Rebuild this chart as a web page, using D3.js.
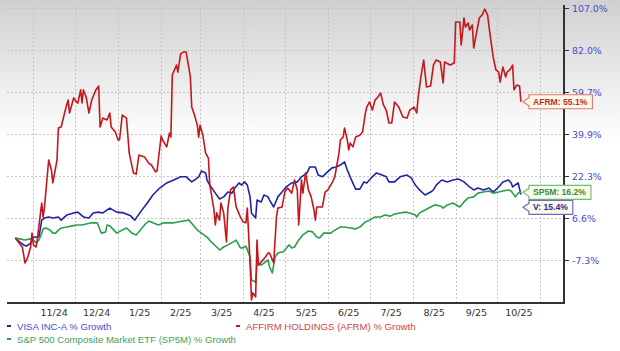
<!DOCTYPE html>
<html>
<head>
<meta charset="utf-8">
<script src="https://cdn.jsdelivr.net/npm/d3@7"></script>
<style>
  body { margin: 0; background: #fff; }
  svg { display: block; }
</style>
</head>
<body>
<script>
  // y ticks are evenly spaced on the chart (log-like growth scale)
  const yTicks = [-7.3, 6.6, 22.3, 39.9, 59.7, 82.0, 107.0]
  const monthStarts = ["2024-11-01", "2024-12-01", "2025-01-01", "2025-02-01", "2025-03-01", "2025-04-01",
    "2025-05-01", "2025-06-01", "2025-07-01", "2025-08-01", "2025-09-01", "2025-10-01", "2025-11-01"]
  const monthLabels = ["11/24", "12/24", "1/25", "2/25", "3/25", "4/25", "5/25", "6/25", "7/25", "8/25", "9/25", "10/25"]

  const afrm = [
    ["2024-10-19", 0.0], ["2024-10-24", -3.0], ["2024-10-25", -5.6], ["2024-10-26", -8.3], ["2024-10-28", -6.3],
    ["2024-10-30", -3.0], ["2024-10-31", 1.6], ["2024-11-01", -2.3], ["2024-11-03", -3.0], ["2024-11-04", 0.3],
    ["2024-11-07", 12.2], ["2024-11-08", 7.0], ["2024-11-09", 10.7], ["2024-11-12", 29.0], ["2024-11-14", 24.8],
    ["2024-11-15", 19.7], ["2024-11-18", 29.0], ["2024-11-19", 42.7], ["2024-11-21", 43.2], ["2024-11-24", 51.2],
    ["2024-11-26", 55.9], ["2024-11-27", 49.8], ["2024-11-30", 56.9], ["2024-12-02", 55.0], ["2024-12-03", 54.5],
    ["2024-12-05", 60.8], ["2024-12-06", 54.5], ["2024-12-07", 60.8], ["2024-12-09", 57.3], ["2024-12-11", 49.8],
    ["2024-12-13", 55.9], ["2024-12-16", 60.8], ["2024-12-18", 62.9], ["2024-12-19", 43.2], ["2024-12-21", 47.4],
    ["2024-12-24", 46.5], ["2024-12-26", 49.8], ["2024-12-27", 43.2], ["2024-12-30", 40.8], ["2025-01-01", 37.4],
    ["2025-01-02", 37.4], ["2025-01-04", 48.8], ["2025-01-07", 47.4], ["2025-01-09", 31.9], ["2025-01-12", 23.6],
    ["2025-01-14", 23.1], ["2025-01-16", 31.1], ["2025-01-20", 30.3], ["2025-01-23", 27.7], ["2025-01-25", 26.9],
    ["2025-01-28", 24.0], ["2025-01-29", 24.4], ["2025-02-01", 39.1], ["2025-02-02", 37.4], ["2025-02-05", 34.5],
    ["2025-02-07", 40.4], ["2025-02-08", 38.6], ["2025-02-09", 68.7], ["2025-02-12", 74.0], ["2025-02-13", 70.3],
    ["2025-02-15", 79.9], ["2025-02-17", 80.9], ["2025-02-19", 80.9], ["2025-02-22", 67.7], ["2025-02-23", 52.6],
    ["2025-02-25", 48.8], ["2025-02-27", 44.1], ["2025-02-28", 38.6], ["2025-03-01", 44.1], ["2025-03-03", 39.4],
    ["2025-03-05", 31.9], ["2025-03-07", 29.8], ["2025-03-08", 18.9], ["2025-03-09", 15.9], ["2025-03-11", 9.6],
    ["2025-03-12", 4.3], ["2025-03-13", 8.5], ["2025-03-15", 5.9], ["2025-03-16", 12.2], ["2025-03-18", 8.5],
    ["2025-03-20", -1.3], ["2025-03-21", 10.3], ["2025-03-23", 17.1], ["2025-03-25", 18.2], ["2025-03-27", 10.7],
    ["2025-03-30", 7.0], ["2025-04-01", 5.3], ["2025-04-03", 5.0], ["2025-04-04", 10.3], ["2025-04-06", -8.3],
    ["2025-04-07", -20.5], ["2025-04-08", -18.2], ["2025-04-10", -19.5], ["2025-04-11", -0.7], ["2025-04-12", -9.0],
    ["2025-04-14", -8.0], ["2025-04-17", -6.3], ["2025-04-19", -5.0], ["2025-04-20", -5.0], ["2025-04-23", -8.3],
    ["2025-04-25", 7.0], ["2025-04-26", 10.3], ["2025-04-29", 10.7], ["2025-05-01", 16.3], ["2025-05-03", 17.8],
    ["2025-05-06", 15.9], ["2025-05-08", 20.8], ["2025-05-10", 17.1], ["2025-05-11", 4.3], ["2025-05-13", 20.8],
    ["2025-05-14", 15.9], ["2025-05-16", 23.6], ["2025-05-18", 17.1], ["2025-05-20", 14.5], ["2025-05-22", 9.6],
    ["2025-05-23", 5.9], ["2025-05-24", 10.7], ["2025-05-28", 10.7], ["2025-05-30", 16.3], ["2025-06-01", 17.1],
    ["2025-06-04", 19.7], ["2025-06-06", 22.0], ["2025-06-09", 31.9], ["2025-06-10", 37.4], ["2025-06-12", 38.6],
    ["2025-06-13", 42.7], ["2025-06-15", 37.4], ["2025-06-16", 33.2], ["2025-06-17", 36.1], ["2025-06-19", 34.5],
    ["2025-06-21", 38.6], ["2025-06-24", 39.4], ["2025-06-26", 40.8], ["2025-06-28", 49.8], ["2025-06-29", 52.6],
    ["2025-07-01", 55.0], ["2025-07-03", 51.2], ["2025-07-05", 55.9], ["2025-07-07", 57.3], ["2025-07-09", 59.2],
    ["2025-07-11", 53.6], ["2025-07-13", 51.2], ["2025-07-15", 45.1], ["2025-07-17", 45.1], ["2025-07-19", 55.0],
    ["2025-07-22", 52.6], ["2025-07-25", 47.9], ["2025-07-28", 47.4], ["2025-07-30", 51.2], ["2025-08-02", 52.6],
    ["2025-08-04", 49.8], ["2025-08-05", 57.3], ["2025-08-07", 67.7], ["2025-08-09", 76.7], ["2025-08-11", 62.4],
    ["2025-08-14", 62.9], ["2025-08-16", 74.0], ["2025-08-18", 76.7], ["2025-08-21", 75.6], ["2025-08-23", 64.5],
    ["2025-08-24", 75.6], ["2025-08-28", 74.0], ["2025-08-31", 75.1], ["2025-09-01", 98.7], ["2025-09-04", 98.7],
    ["2025-09-05", 85.0], ["2025-09-07", 101.0], ["2025-09-08", 95.7], ["2025-09-10", 98.1], ["2025-09-11", 93.9],
    ["2025-09-13", 96.9], ["2025-09-14", 83.2], ["2025-09-16", 92.1], ["2025-09-18", 101.0], ["2025-09-20", 102.8],
    ["2025-09-22", 106.4], ["2025-09-24", 102.8], ["2025-09-26", 89.7], ["2025-09-28", 78.3], ["2025-09-30", 71.4],
    ["2025-10-02", 70.3], ["2025-10-03", 65.0], ["2025-10-05", 73.0], ["2025-10-07", 67.7], ["2025-10-08", 70.3],
    ["2025-10-10", 71.4], ["2025-10-12", 74.0], ["2025-10-13", 60.8], ["2025-10-15", 63.4], ["2025-10-17", 62.9],
    ["2025-10-18", 55.1]
  ]

  const visa = [
    ["2024-10-19", 0.0], ["2024-10-22", -1.3], ["2024-10-25", -2.3], ["2024-10-27", -2.7], ["2024-10-30", -1.7],
    ["2024-11-01", 0.3], ["2024-11-05", 0.3], ["2024-11-07", 5.9], ["2024-11-09", 6.6], ["2024-11-12", 7.0],
    ["2024-11-15", 6.6], ["2024-11-19", 7.0], ["2024-11-21", 5.9], ["2024-11-25", 7.7], ["2024-11-30", 8.5],
    ["2024-12-03", 8.8], ["2024-12-07", 7.0], ["2024-12-11", 6.6], ["2024-12-14", 8.5], ["2024-12-18", 8.8],
    ["2024-12-21", 8.5], ["2024-12-26", 10.3], ["2024-12-31", 8.8], ["2025-01-05", 8.5], ["2025-01-10", 7.4],
    ["2025-01-13", 5.9], ["2025-01-17", 8.8], ["2025-01-22", 12.2], ["2025-01-26", 15.2], ["2025-01-31", 17.8],
    ["2025-02-05", 19.7], ["2025-02-10", 20.8], ["2025-02-15", 22.0], ["2025-02-19", 22.0], ["2025-02-23", 20.1],
    ["2025-02-25", 20.8], ["2025-02-28", 22.0], ["2025-03-02", 24.4], ["2025-03-05", 23.6], ["2025-03-06", 20.8],
    ["2025-03-08", 18.9], ["2025-03-12", 15.9], ["2025-03-15", 13.7], ["2025-03-18", 14.5], ["2025-03-21", 16.3],
    ["2025-03-24", 15.9], ["2025-03-26", 17.8], ["2025-03-29", 19.7], ["2025-03-31", 18.9], ["2025-04-02", 20.1],
    ["2025-04-04", 18.9], ["2025-04-06", 14.5], ["2025-04-07", 8.5], ["2025-04-10", 6.6], ["2025-04-11", 13.3],
    ["2025-04-14", 12.6], ["2025-04-16", 15.2], ["2025-04-19", 14.5], ["2025-04-20", 13.3], ["2025-04-23", 10.7],
    ["2025-04-26", 14.5], ["2025-04-29", 16.3], ["2025-05-02", 18.2], ["2025-05-06", 19.7], ["2025-05-10", 20.1],
    ["2025-05-13", 22.0], ["2025-05-17", 23.6], ["2025-05-19", 26.1], ["2025-05-23", 26.1], ["2025-05-25", 22.7],
    ["2025-05-28", 22.0], ["2025-05-31", 23.6], ["2025-06-04", 25.7], ["2025-06-07", 26.1], ["2025-06-10", 26.9],
    ["2025-06-13", 28.2], ["2025-06-15", 24.8], ["2025-06-17", 22.0], ["2025-06-21", 17.4], ["2025-06-24", 17.4],
    ["2025-06-27", 20.1], ["2025-06-29", 19.7], ["2025-07-03", 22.0], ["2025-07-06", 23.6], ["2025-07-10", 22.7],
    ["2025-07-13", 22.0], ["2025-07-15", 20.1], ["2025-07-19", 20.1], ["2025-07-23", 22.0], ["2025-07-28", 22.7],
    ["2025-07-31", 21.6], ["2025-08-03", 18.9], ["2025-08-06", 17.1], ["2025-08-10", 15.2], ["2025-08-14", 16.3],
    ["2025-08-16", 17.1], ["2025-08-18", 18.9], ["2025-08-22", 20.8], ["2025-08-26", 20.1], ["2025-08-30", 20.8],
    ["2025-09-03", 21.2], ["2025-09-07", 20.1], ["2025-09-11", 18.2], ["2025-09-14", 17.1], ["2025-09-17", 17.8],
    ["2025-09-21", 17.1], ["2025-09-25", 17.8], ["2025-09-28", 16.3], ["2025-10-02", 18.2], ["2025-10-05", 20.1],
    ["2025-10-09", 20.8], ["2025-10-11", 19.7], ["2025-10-12", 18.2], ["2025-10-16", 19.7], ["2025-10-17", 17.5],
    ["2025-10-18", 15.4]
  ]

  const sp5m = [
    ["2024-10-19", 0.0], ["2024-10-22", -0.3], ["2024-10-26", -0.7], ["2024-10-30", -0.3], ["2024-11-01", -0.7],
    ["2024-11-03", -1.7], ["2024-11-05", -0.7], ["2024-11-07", 1.6], ["2024-11-08", 3.0], ["2024-11-10", 3.3],
    ["2024-11-13", 2.6], ["2024-11-15", 1.6], ["2024-11-17", 1.6], ["2024-11-19", 2.6], ["2024-11-21", 3.3],
    ["2024-11-25", 3.6], ["2024-11-29", 4.0], ["2024-12-02", 4.3], ["2024-12-06", 4.3], ["2024-12-09", 4.6],
    ["2024-12-13", 5.0], ["2024-12-17", 5.0], ["2024-12-19", 2.6], ["2024-12-20", 1.6], ["2024-12-23", 2.0],
    ["2024-12-24", 4.3], ["2024-12-26", 4.0], ["2024-12-29", 2.6], ["2024-12-31", 1.6], ["2025-01-04", 2.6],
    ["2025-01-07", 3.3], ["2025-01-11", 1.6], ["2025-01-14", 1.0], ["2025-01-17", 2.6], ["2025-01-20", 4.3],
    ["2025-01-23", 5.6], ["2025-01-26", 5.0], ["2025-01-30", 4.3], ["2025-02-03", 5.0], ["2025-02-06", 5.0],
    ["2025-02-10", 5.0], ["2025-02-13", 5.3], ["2025-02-17", 5.6], ["2025-02-21", 5.9], ["2025-02-24", 4.3],
    ["2025-02-27", 2.6], ["2025-03-02", 1.6], ["2025-03-06", 0.3], ["2025-03-09", -1.3], ["2025-03-13", -3.0],
    ["2025-03-15", -4.0], ["2025-03-18", -3.0], ["2025-03-21", -2.3], ["2025-03-25", -1.3], ["2025-03-27", -0.7],
    ["2025-03-30", -3.3], ["2025-04-01", -3.3], ["2025-04-03", -2.7], ["2025-04-06", -6.3], ["2025-04-07", -13.9],
    ["2025-04-10", -14.6], ["2025-04-11", -8.3], ["2025-04-14", -9.0], ["2025-04-16", -8.3], ["2025-04-19", -7.3],
    ["2025-04-20", -9.6], ["2025-04-22", -11.6], ["2025-04-24", -6.3], ["2025-04-26", -5.0], ["2025-04-30", -4.6],
    ["2025-05-04", -2.3], ["2025-05-06", -3.3], ["2025-05-08", -3.0], ["2025-05-11", -0.7], ["2025-05-14", 1.0],
    ["2025-05-18", 2.3], ["2025-05-21", 2.0], ["2025-05-24", 0.3], ["2025-05-26", 0.0], ["2025-05-29", 1.6],
    ["2025-06-03", 1.6], ["2025-06-06", 2.6], ["2025-06-10", 3.6], ["2025-06-13", 3.6], ["2025-06-17", 3.3],
    ["2025-06-21", 3.0], ["2025-06-24", 3.6], ["2025-06-28", 5.3], ["2025-07-01", 5.9], ["2025-07-05", 7.0],
    ["2025-07-09", 7.0], ["2025-07-12", 7.7], ["2025-07-16", 7.3], ["2025-07-19", 8.1], ["2025-07-23", 8.5],
    ["2025-07-27", 8.8], ["2025-07-30", 8.5], ["2025-08-03", 7.7], ["2025-08-04", 7.0], ["2025-08-06", 8.5],
    ["2025-08-10", 9.6], ["2025-08-14", 10.7], ["2025-08-17", 11.5], ["2025-08-21", 11.1], ["2025-08-23", 10.3],
    ["2025-08-26", 11.5], ["2025-08-30", 12.2], ["2025-09-04", 10.7], ["2025-09-07", 12.6], ["2025-09-10", 14.1],
    ["2025-09-14", 14.5], ["2025-09-17", 15.9], ["2025-09-21", 16.3], ["2025-09-25", 16.7], ["2025-09-28", 15.9],
    ["2025-10-02", 16.3], ["2025-10-05", 16.7], ["2025-10-09", 17.1], ["2025-10-11", 16.7], ["2025-10-14", 14.5],
    ["2025-10-16", 15.9], ["2025-10-18", 16.2]
  ]

  const series = [
    { legend: 'VISA INC-A % Growth', tag: 'V', data: visa, line: '#2222a6', text: '#4a4acb', label: '#2a2a9a', box: '#6a6ad0' },
    { legend: 'S&P 500 Composite Market ETF (SP5M) % Growth', tag: 'SP5M', data: sp5m, line: '#2b9e4c', text: '#3f9f55', label: '#2f8f45', box: '#6cbf7e' },
    { legend: 'AFFIRM HOLDINGS (AFRM) % Growth', tag: 'AFRM', data: afrm, line: '#c4161c', text: '#d04444', label: '#c42a2a', box: '#e07a7a' }
  ]

  const W = 620, H = 351
  const plotL = 7, plotR = 564, plotT = 5, plotB = 303
  const tickTop = 8, tickBottom = 260

  const parse = d3.utcParse('%Y-%m-%d')

  const x = d3.scaleUtc()
    .domain([parse('2024-10-13'), parse('2025-11-18')])
    .range([plotL, plotR])

  const y = d3.scaleLinear()
    .domain(yTicks)
    .range(yTicks.map((d, i) => tickBottom - i * (tickBottom - tickTop) / (yTicks.length - 1)))

  const svg = d3.select('body').append('svg').attr('width', W).attr('height', H)

  const defs = svg.append('defs')
  const grad = defs.append('linearGradient').attr('id', 'bg').attr('x1', 0).attr('y1', 0).attr('x2', 0).attr('y2', 1)
  grad.append('stop').attr('offset', 0).attr('stop-color', '#d0d0d0')
  grad.append('stop').attr('offset', 0.4).attr('stop-color', '#ffffff')
  grad.append('stop').attr('offset', 1).attr('stop-color', '#ffffff')
  defs.append('clipPath').attr('id', 'plot').append('rect')
    .attr('x', plotL).attr('y', plotT).attr('width', plotR - plotL).attr('height', plotB - plotT)

  svg.append('rect').attr('width', W).attr('height', H).attr('fill', 'url(#bg)')

  // grid
  const grid = svg.append('g').attr('stroke', '#c4c4c4').attr('stroke-dasharray', '2,2').attr('stroke-width', 1)
  grid.selectAll('.h').data(yTicks).join('line')
    .attr('x1', plotL).attr('x2', plotR)
    .attr('y1', d => Math.round(y(d)) + 0.5).attr('y2', d => Math.round(y(d)) + 0.5)
  grid.selectAll('.v').data(monthStarts).join('line')
    .attr('y1', plotT).attr('y2', plotB)
    .attr('x1', d => Math.round(x(parse(d))) + 0.5).attr('x2', d => Math.round(x(parse(d))) + 0.5)

  // x labels, centred in each month
  svg.append('g').selectAll('text').data(monthLabels).join('text')
    .attr('x', (d, i) => (x(parse(monthStarts[i])) + x(parse(monthStarts[i + 1]))) / 2)
    .attr('y', 316)
    .attr('text-anchor', 'middle')
    .attr('font-family', 'DejaVu Sans, Verdana, sans-serif')
    .attr('font-size', 9.5)
    .attr('fill', '#333')
    .text(d => d)

  // right axis
  const yAxis = d3.axisRight(y).tickValues(yTicks).tickSize(5).tickPadding(3)
    .tickFormat(d => d.toFixed(1) + '%')
  const ax = svg.append('g').attr('transform', `translate(${plotR},0)`).call(yAxis)
  ax.select('.domain').remove()
  ax.selectAll('line').attr('stroke', '#333')
  ax.selectAll('text').attr('font-family', 'DejaVu Sans, Verdana, sans-serif')
    .attr('font-size', 9.4).attr('fill', '#4b4bc4')

  svg.append('line').attr('x1', plotR).attr('x2', plotR).attr('y1', plotT).attr('y2', plotB + 1)
    .attr('stroke', '#333').attr('stroke-width', 2)
  svg.append('line').attr('x1', plotL).attr('x2', plotR + 1).attr('y1', plotB).attr('y2', plotB)
    .attr('stroke', '#333').attr('stroke-width', 2)

  // lines
  const line = d3.line().x(d => x(parse(d[0]))).y(d => y(d[1]))
  const lines = svg.append('g').attr('clip-path', 'url(#plot)')
  series.forEach(s => {
    lines.append('path').datum(s.data)
      .attr('d', line)
      .attr('fill', 'none')
      .attr('stroke', s.line)
      .attr('stroke-width', 1.6)
      .attr('stroke-linejoin', 'round')
  })

  // end callouts
  const tags = series.map(s => {
    const last = s.data[s.data.length - 1]
    return { s, value: last[1], x: x(parse(last[0])), y: y(last[1]) }
  }).sort((a, b) => a.y - b.y)
  for (let i = 1; i < tags.length; i++) {
    if (tags[i].y < tags[i - 1].y + 15) tags[i].y = tags[i - 1].y + 15
  }
  tags.forEach(t => {
    const g = svg.append('g')
    const tip = t.x + 2, bx = tip + 6, h = 14
    const txt = g.append('text')
      .attr('x', bx + 4).attr('y', t.y + 3)
      .attr('font-family', 'Liberation Sans, Arial, sans-serif')
      .attr('font-weight', 'bold')
      .attr('font-size', 8.6)
      .attr('fill', t.s.label)
      .text(`${t.s.tag}: ${t.value.toFixed(1)}%`)
    const w = txt.node().getComputedTextLength() + 9
    const t0 = t.y - h / 2, t1 = t.y + h / 2
    g.insert('path', 'text')
      .attr('d', `M${bx},${t0}H${bx + w}V${t1}H${bx}V${t.y + 4}L${tip},${t.y}L${bx},${t.y - 4}Z`)
      .attr('fill', '#fffae6')
      .attr('stroke', t.s.box)
      .attr('stroke-width', 1.2)
  })

  // legend
  const legendPos = [[7, 326], [7, 339], [236, 326]]
  series.forEach((s, i) => {
    const [lx, ly] = legendPos[i]
    svg.append('line').attr('x1', lx).attr('x2', lx + 4).attr('y1', ly).attr('y2', ly)
      .attr('stroke', s.line).attr('stroke-width', 2)
    svg.append('text').attr('x', lx + 10).attr('y', ly + 3.5)
      .attr('font-family', 'Liberation Sans, Arial, sans-serif')
      .attr('font-size', 9.6)
      .attr('fill', s.text)
      .text(s.legend)
  })
</script>
</body>
</html>
